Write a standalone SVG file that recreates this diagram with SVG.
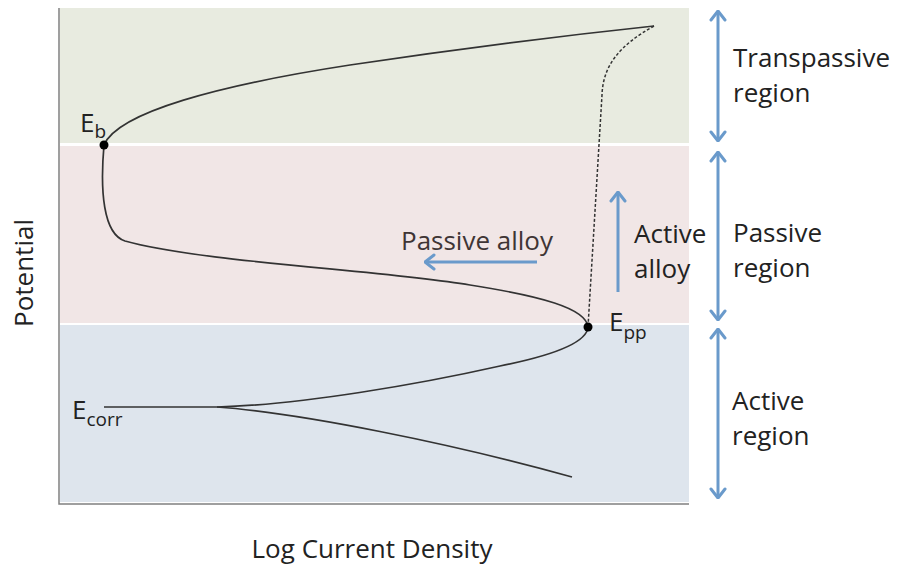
<svg xmlns="http://www.w3.org/2000/svg" width="899" height="567" viewBox="0 0 899 567">
<style>
text{font-family:"Open Sans","Noto Sans",sans-serif;font-size:26px;fill:#222;}
.sub{font-size:19px;}
.curve{fill:none;stroke:#333;stroke-width:1.7;}
.dash{fill:none;stroke:#333;stroke-width:1.5;stroke-dasharray:3 2;}
.blue{fill:none;stroke:#6A9ACB;stroke-width:3;marker-end:url(#chev);}
.both{marker-start:url(#chev);}
.axis{fill:none;stroke:#808080;stroke-width:1.5;}
</style>
<defs>
<marker id="chev" viewBox="0 0 12 18" refX="11" refY="9" markerWidth="12" markerHeight="18" markerUnits="userSpaceOnUse" orient="auto-start-reverse">
<path d="M2,2 L11,9 L2,16" fill="none" stroke="#6A9ACB" stroke-width="3" stroke-linecap="round" stroke-linejoin="round"/>
</marker>
</defs>
<g id="bands">
<rect x="60" y="8" width="629" height="135" fill="#E8EBE0"/>
<rect x="60" y="146" width="629" height="177" fill="#F1E6E6"/>
<rect x="60" y="325" width="629" height="177" fill="#DEE5ED"/>
</g>
<g id="axes">
<path class="axis" d="M59,8 L59,504 L689,504"/>
</g>
<g id="connectors">
<path class="curve" d="M104,145 C118,112 220,85 350,65 C450,50 560,36 654,26"/>
<path class="dash" d="M654,26 C620,45 603,65 602,95 L588,327"/>
<path class="curve" d="M104,145 C100,190 103,234 125,241 C200,262 380,270 470,285 C540,296 586,308 588,327"/>
<path class="curve" d="M588,327 C587,343 550,356 500,366 C420,384 300,405 217,407 L104,407"/>
<path class="curve" d="M217,407 C300,413 450,443 572,477"/>
<path class="blue both" d="M718,11 L718,141"/>
<path class="blue both" d="M718,152 L718,320"/>
<path class="blue both" d="M718,329 L718,498"/>
<path class="blue" d="M537,262 L425,262"/>
<path class="blue" d="M618,292 L618,192"/>
</g>
<g id="node-eb">
<circle cx="104" cy="145" r="4.5" fill="#000"/>
<text x="80" y="132">E<tspan class="sub" y="138">b</tspan></text>
</g>
<g id="node-epp">
<circle cx="588" cy="327" r="4.5" fill="#000"/>
<text x="609" y="331">E<tspan class="sub" y="339">pp</tspan></text>
</g>
<g id="node-ecorr">
<text x="72" y="419">E<tspan class="sub" y="426">corr</tspan></text>
</g>
<g id="labels">
<text x="733" y="67">Transpassive</text>
<text x="733" y="102">region</text>
<text x="733" y="242">Passive</text>
<text x="733" y="277">region</text>
<text x="732" y="410">Active</text>
<text x="732" y="445">region</text>
<text x="634" y="243">Active</text>
<text x="634" y="278">alloy</text>
<text x="401" y="250" style="fill:#3f3535">Passive alloy</text>
<text x="372" y="558" text-anchor="middle">Log Current Density</text>
<text transform="translate(33,273) rotate(-90)" text-anchor="middle">Potential</text>
</g>
</svg>
